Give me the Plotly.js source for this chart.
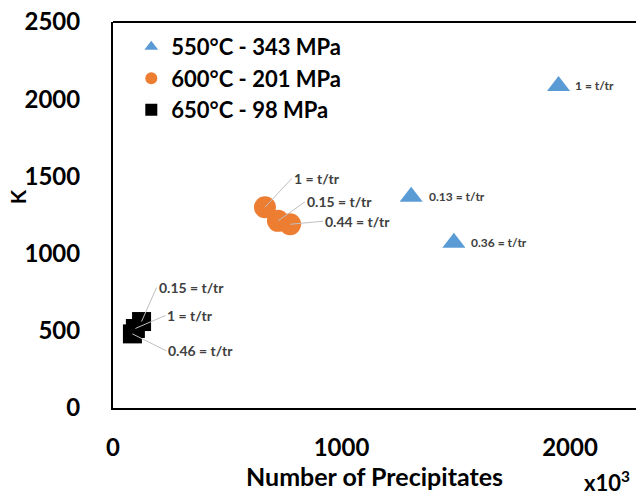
<!DOCTYPE html>
<html><head><meta charset="utf-8">
<script src="https://cdn.plot.ly/plotly-3.0.1.min.js"></script>
<style>html,body{margin:0;padding:0;background:#fff;}#chart{width:636px;height:495px;}</style>
</head><body><div id="chart"></div>
<script>
// Data (x in units of 10^3 precipitates, y = K)
const seriesNames = ["550°C - 343 MPa", "600°C - 201 MPa", "650°C - 98 MPa"];
const x550 = [1950, 1305, 1492];
const y550 = [2085, 1368, 1070];
const lab550 = ["1 = t/tr", "0.13 = t/tr", "0.36 = t/tr"];
const x600 = [665, 722, 775];
const y600 = [1300, 1212, 1190];
const lab600 = ["1 = t/tr", "0.15 = t/tr", "0.44 = t/tr"];
const x650 = [125, 98, 85];
const y650 = [560, 515, 480];
const lab650 = ["0.15 = t/tr", "1 = t/tr", "0.46 = t/tr"];
const xTicks = [0, 1000, 2000];
const yTicks = [0, 500, 1000, 1500, 2000, 2500];

const FONT = "Lato, 'Open Sans', sans-serif";
const colors = ["#5B9BD5", "#ED7D31", "#000000"];
const symbols = ["triangle-up", "circle", "square"];
const sizes = [20, 22, 19];

const xs = [x550, x600, x650], ys = [y550, y600, y650], labs = [lab550, lab600, lab650];
const traces = xs.map((xv, i) => ({
  type: "scatter", mode: "markers", name: seriesNames[i],
  x: xv, y: ys[i],
  marker: {symbol: symbols[i], size: sizes[i], color: colors[i], line: {width: 0}}
}));

// label placement (pixels) for each series' labels
const offsets = [
  [[14, 1], [16, 0], [15, 0]],
  [[27, -29], [27, -19], [33, -3]],
  [[15, -34], [30, -13], [34, 17]]
];
const arrows = [false, true, true];
const fsz = [12, 14, 14];
const annotations = [];
labs.forEach((lv, i) => {
  lv.forEach((t, j) => {
    const a = {
      x: xs[i][j], y: ys[i][j], xref: "x", yref: "y",
      text: "<b>" + t + "</b>",
      showarrow: arrows[i],
      xanchor: "left", yanchor: "middle",
      font: {family: FONT, size: fsz[i], color: "#404040"}
    };
    if (arrows[i]) {
      a.arrowhead = 0; a.arrowwidth = 1; a.arrowcolor = "#bfbfbf";
      a.ax = offsets[i][j][0]; a.ay = offsets[i][j][1];
    } else {
      a.xshift = offsets[i][j][0]; a.yshift = offsets[i][j][1];
    }
    annotations.push(a);
  });
});
annotations.push({
  xref: "paper", yref: "paper", x: -0.182, y: 0.548, text: "<b>K</b>",
  showarrow: false, textangle: -90, xanchor: "center", yanchor: "middle",
  font: {family: FONT, size: 21, color: "#000"}
});
annotations.push({
  xref: "paper", yref: "paper", x: 0.945, y: -0.19, text: "<b>x10<sup>3</sup></b>",
  showarrow: false, xanchor: "center", yanchor: "middle",
  font: {family: FONT, size: 22, color: "#000"}
});

const layout = {
  width: 636, height: 495,
  margin: {l: 113, r: 0, t: 22, b: 87, pad: 0},
  paper_bgcolor: "#fff", plot_bgcolor: "#fff",
  showlegend: true,
  legend: {x: 0.035, y: 0.99, xanchor: "left", yanchor: "top",
    font: {family: FONT, size: 22, color: "#000", weight: "bold"},
    bgcolor: "rgba(0,0,0,0)", itemsizing: "constant", tracegroupgap: 0},
  xaxis: {
    range: [0, 2289], tickvals: xTicks, ticktext: xTicks.map(String),
    showgrid: false, zeroline: false, showline: true, linecolor: "#000", linewidth: 2,
    mirror: false, ticks: "", ticklabelstandoff: 17,
    tickfont: {family: FONT, size: 24, color: "#000", weight: "bold"},
    title: {text: "<b>Number of Precipitates</b>", standoff: 4,
      font: {family: FONT, size: 25, color: "#000"}}
  },
  yaxis: {
    range: [0, 2500], tickvals: yTicks, ticktext: yTicks.map(String),
    showgrid: false, zeroline: false, showline: true, linecolor: "#000", linewidth: 2,
    ticks: "", ticklabelstandoff: 26,
    tickfont: {family: FONT, size: 24, color: "#000", weight: "bold"}
  },
  shapes: [{type: "line", xref: "paper", yref: "paper", x0: 0, x1: 1, y0: 1, y1: 1,
    line: {color: "#000", width: 2}}],
  annotations: annotations
};
Plotly.newPlot("chart", traces, layout, {displayModeBar: false, staticPlot: true});
</script></body></html>
